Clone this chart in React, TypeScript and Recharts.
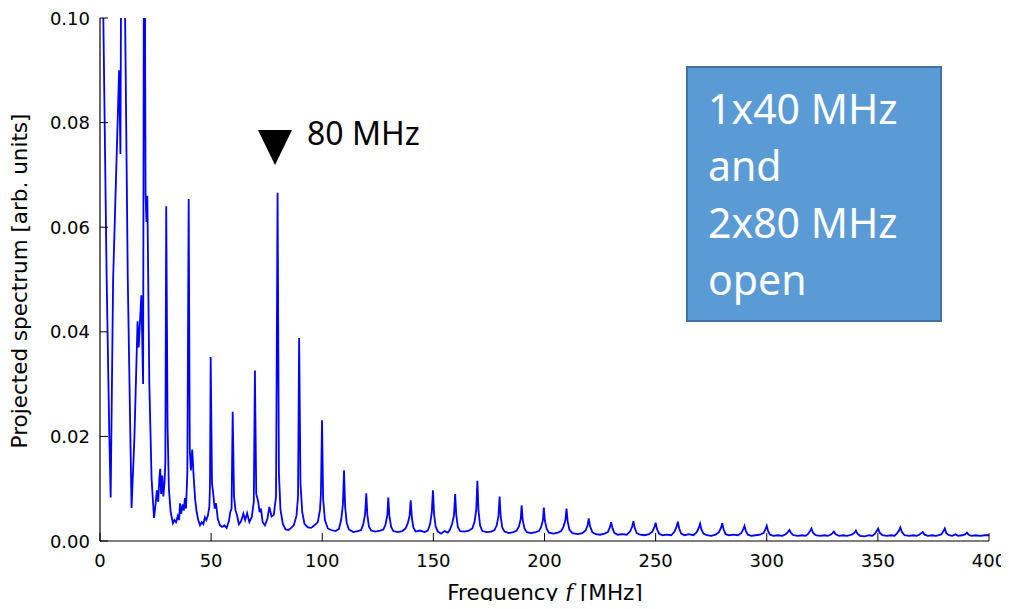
import React from 'react';
import { LineChart, Line, XAxis, YAxis } from 'recharts';

// Frequency [MHz], projected spectrum [arb. units]
const lowBand: [number, number][] = [
  [0.3, 0.16], [1.5, 0.1], [3.0, 0.05], [4.2, 0.02], [4.8, 0.0083], [5.9, 0.05], [8.6, 0.09], [9.2, 0.074],
  [9.6, 0.12], [10.4, 0.14], [11.3, 0.1], [12.5, 0.05], [14.2, 0.0063], [15.5, 0.02], [16.9, 0.042], [17.4, 0.037],
  [18.6, 0.047], [19.4, 0.03], [19.9, 0.15], [20.5, 0.0665], [20.9, 0.061], [21.3, 0.066], [22.2, 0.03], [23.2, 0.012],
  [24.3, 0.0044], [25.0, 0.007], [25.6, 0.0097], [26.2, 0.0075], [26.7, 0.012], [27.1, 0.0138], [27.5, 0.009],
  [28.0, 0.0125], [28.5, 0.0085], [29.0, 0.011], [29.4, 0.015], [29.8, 0.064], [30.4, 0.022], [31.0, 0.01],
  [31.8, 0.0055], [32.8, 0.0034], [33.5, 0.004], [34.2, 0.0036], [35.0, 0.0048], [35.6, 0.004], [36.0, 0.0072],
  [36.5, 0.0052], [37.2, 0.007], [37.7, 0.0058], [38.2, 0.0082], [38.7, 0.0062], [39.3, 0.013], [39.9, 0.0654],
  [40.4, 0.0174], [40.9, 0.0135], [41.5, 0.0175], [42.1, 0.0126], [42.8, 0.008], [43.5, 0.0055], [44.2, 0.004],
  [45.0, 0.003], [45.8, 0.0036], [46.5, 0.0032], [47.2, 0.0045], [47.8, 0.004], [48.5, 0.0048], [49.2, 0.0065],
  [49.5, 0.011], [49.8, 0.0352],
];

const midBand: [number, number][] = [
  [50.4, 0.011], [51.0, 0.0088], [51.6, 0.0062], [52.2, 0.0072], [53.0, 0.0042], [54.0, 0.003], [55.0, 0.0027],
  [56.0, 0.003], [57.0, 0.0025], [58.0, 0.0038], [58.6, 0.0055], [59.2, 0.0062], [59.7, 0.0247], [60.3, 0.0085],
  [61.0, 0.0058], [61.6, 0.005], [62.5, 0.0032], [63.5, 0.0038], [64.5, 0.0052], [65.3, 0.004], [66.2, 0.0053],
  [67.2, 0.0036], [68.3, 0.0046], [69.2, 0.0075], [69.7, 0.0326], [70.3, 0.009], [71.2, 0.0075], [71.8, 0.0055],
  [72.4, 0.0062], [73.2, 0.0036], [74.2, 0.003], [75.3, 0.0042], [76.2, 0.0065], [77.2, 0.0047], [78.2, 0.005],
  [79.2, 0.0085], [79.9, 0.0666], [80.5, 0.013], [81.2, 0.006], [82.3, 0.0032], [83.5, 0.0022], [84.8, 0.0021],
  [86.0, 0.0025], [87.2, 0.003], [88.4, 0.0048], [89.1, 0.0085], [89.6, 0.0388], [90.2, 0.011], [91.0, 0.0055],
  [92.0, 0.0033], [93.5, 0.0026], [95.0, 0.0025], [96.5, 0.003], [98.0, 0.0036], [99.0, 0.006], [99.4, 0.009],
  [99.9, 0.0231], [100.4, 0.008], [101.2, 0.004], [102.5, 0.0024],
];

const upperBand: [number, number][] = [
  [104, 0.0021], [106, 0.0019], [107.5, 0.0023], [108.5, 0.004], [109.3, 0.007], [109.8, 0.0135], [110.3, 0.0065],
  [111, 0.0035], [112, 0.0022], [114, 0.0017], [116, 0.0019],
  [117.5, 0.0021], [118.5, 0.0033], [119.3, 0.0052], [119.8, 0.0091], [120.3, 0.005], [121, 0.0028], [122, 0.002],
  [124, 0.0018], [126, 0.002],
  [127.5, 0.0022], [128.5, 0.0032], [129.3, 0.005], [129.7, 0.0083], [130.2, 0.0048], [131, 0.0027], [132, 0.0019],
  [134, 0.0017], [136, 0.0019],
  [137.5, 0.0024], [138.5, 0.0034], [139.3, 0.0048], [139.8, 0.0078], [140.3, 0.0045], [141, 0.0026], [142, 0.0018],
  [144, 0.002], [146, 0.0017],
  [147.5, 0.002], [148.5, 0.0032], [149.3, 0.0055], [149.8, 0.0097], [150.3, 0.0052], [151, 0.0028], [152, 0.0018],
  [153.5, 0.0014], [155, 0.0019], [156.5, 0.0016],
  [157.5, 0.0022], [158.5, 0.0034], [159.3, 0.005], [159.8, 0.009], [160.3, 0.005], [161, 0.0027], [162, 0.0019],
  [164, 0.0018], [166, 0.002],
  [167.5, 0.0024], [168.5, 0.0036], [169.3, 0.006], [169.8, 0.0115], [170.3, 0.0058], [171, 0.003], [172, 0.0019],
  [174, 0.0017], [176, 0.0018],
  [177.5, 0.0021], [178.5, 0.003], [179.3, 0.0048], [179.8, 0.0085], [180.3, 0.0046], [181, 0.0026], [182, 0.0018],
  [184, 0.0015], [186, 0.0017],
  [187.5, 0.002], [188.5, 0.0028], [189.3, 0.0042], [189.7, 0.0068], [190.2, 0.004], [191, 0.0024], [192, 0.0017],
  [194, 0.0015], [196, 0.0017],
  [197.5, 0.0019], [198.5, 0.0027], [199.3, 0.004], [199.7, 0.0064], [200.2, 0.0038], [201, 0.0023], [202, 0.0016],
  [204, 0.0014], [206, 0.0016],
  [207.5, 0.0019], [208.5, 0.0027], [209.4, 0.004], [209.9, 0.0062], [210.4, 0.0038], [211.2, 0.0022], [212.5, 0.0015],
  [215, 0.0013], [217, 0.0015],
  [218.5, 0.002], [219.4, 0.003], [219.9, 0.0043], [220.5, 0.0028], [221.5, 0.0017], [223, 0.0013], [225, 0.0012],
  [227, 0.0014],
  [228.5, 0.0017], [229.4, 0.0026], [230, 0.0036], [230.6, 0.0024], [231.5, 0.0015], [233, 0.0012], [235, 0.0013],
  [237, 0.0012],
  [238.5, 0.0018], [239.4, 0.0027], [240, 0.0038], [240.6, 0.0025], [241.5, 0.0015], [243, 0.0012], [245, 0.0011],
  [247, 0.0013],
];

const highBand: [number, number][] = [
  [248.5, 0.0018], [249.4, 0.0026], [250, 0.0035], [250.6, 0.0023], [251.5, 0.0014], [253, 0.0011], [255, 0.0012],
  [257, 0.0011],
  [258.5, 0.0018], [259.4, 0.0027], [260, 0.0037], [260.6, 0.0024], [261.5, 0.0014], [263, 0.0011], [265, 0.0013],
  [267, 0.0011],
  [268.5, 0.0017], [269.4, 0.0025], [270, 0.0033], [270.6, 0.0022], [271.5, 0.0014], [273, 0.0011], [275, 0.001],
  [277, 0.0012],
  [278.5, 0.0017], [279.4, 0.0025], [280, 0.0034], [280.6, 0.0022], [281.5, 0.0013], [283, 0.0011], [285, 0.0012],
  [287, 0.0011],
  [288.5, 0.0015], [289.4, 0.0022], [290, 0.0029], [290.6, 0.0019], [291.5, 0.0012], [293, 0.001], [295, 0.0011],
  [297, 0.0012],
  [298.5, 0.0015], [299.4, 0.0022], [300, 0.0029], [300.6, 0.0019], [301.5, 0.0012], [303, 0.001], [305, 0.0011],
  [307, 0.001],
  [308.5, 0.0013], [309.5, 0.0017], [310.2, 0.0021], [311, 0.0015], [312, 0.0011], [314, 0.001], [316, 0.0011],
  [317.5, 0.001],
  [318.5, 0.0013], [319.5, 0.0019], [320.1, 0.0024], [320.8, 0.0016], [322, 0.0011], [324, 0.001], [326, 0.0011],
  [327.5, 0.001],
  [328.7, 0.0012], [329.6, 0.0015], [330.2, 0.0018], [331, 0.0013], [332.5, 0.001], [334.5, 0.0011], [336, 0.001],
  [337.5, 0.0011],
  [338.6, 0.0013], [339.5, 0.0016], [340.1, 0.002], [340.8, 0.0014], [342, 0.001], [344, 0.0009], [346, 0.0011],
  [347.5, 0.001],
  [348.5, 0.0013], [349.5, 0.0019], [350.1, 0.0024], [350.8, 0.0016], [352, 0.0011], [354, 0.001], [356, 0.0011],
  [357.5, 0.001],
  [358.5, 0.0014], [359.5, 0.002], [360.1, 0.0026], [360.8, 0.0017], [362, 0.0011], [364, 0.001], [366, 0.0011],
  [367.5, 0.001],
  [368.6, 0.0012], [369.5, 0.0015], [370.2, 0.0017], [371, 0.0012], [372.5, 0.001], [374.5, 0.0011], [376, 0.001],
  [377.5, 0.0011],
  [378.6, 0.0013], [379.5, 0.0019], [380.1, 0.0024], [380.8, 0.0015], [382, 0.0011], [383.5, 0.001],
  [385, 0.0013], [386, 0.001], [388, 0.0011], [389.4, 0.0013], [390.1, 0.0016], [390.9, 0.0012], [392, 0.001],
  [394, 0.0011], [396, 0.001], [398, 0.0011], [400, 0.0011],
];

const xTicks = [0, 50, 100, 150, 200, 250, 300, 350, 400];
const yTicks = [0, 0.02, 0.04, 0.06, 0.08, 0.1];
const xTitle = 'Frequency ';
const xTitleVar = 'f';
const xTitleUnit = ' [MHz]';
const yTitle = 'Projected spectrum [arb. units]';
const markerLabel = '80 MHz';
const boxLines = ['1x40 MHz', 'and', '2x80 MHz', 'open'];

const spectrum = [...lowBand, ...midBand, ...upperBand, ...highBand].map(([f, v]) => ({ f, v }));

const W = 1001;
const H = 601;
const TICK = 8;
const FONT = 'DejaVu Sans, sans-serif';
const TICK_FS = 18;
const TITLE_FS = 21.5;

const BottomTick = (props: any) => {
  const { x, y, payload } = props;
  return (
    <g>
      <line x1={x} y1={y} x2={x} y2={y - TICK} stroke="#000" strokeWidth={1} />
      <text x={x} y={y + 26} textAnchor="middle" fontFamily={FONT} fontSize={TICK_FS} fill="#000">
        {payload.value}
      </text>
    </g>
  );
};

const TopTick = (props: any) => {
  const { x, y } = props;
  return <line x1={x} y1={y} x2={x} y2={y + TICK} stroke="#000" strokeWidth={1} />;
};

const LeftTick = (props: any) => {
  const { x, y, payload } = props;
  return (
    <g>
      <line x1={x} y1={y} x2={x + TICK} y2={y} stroke="#000" strokeWidth={1} />
      <text x={x - 10} y={y + 6.5} textAnchor="end" fontFamily={FONT} fontSize={TICK_FS} fill="#000">
        {Number(payload.value).toFixed(2)}
      </text>
    </g>
  );
};

const RightTick = (props: any) => {
  const { x, y } = props;
  return <line x1={x} y1={y} x2={x - TICK} y2={y} stroke="#000" strokeWidth={1} />;
};

export default function App() {
  return (
    <div style={{ position: 'relative', width: W, height: H, marginBottom: -8 }}>
      <LineChart width={W} height={H} data={spectrum} margin={{ top: 10, right: 20, left: 0, bottom: 0 }}>
        <XAxis
          dataKey="f"
          type="number"
          domain={[0, 400]}
          ticks={xTicks}
          interval={0}
          height={68}
          tickSize={0}
          tickMargin={0}
          tickLine={false}
          axisLine={{ stroke: '#000', strokeWidth: 1.2 }}
          tick={<BottomTick />}
          allowDataOverflow
        />
        <XAxis
          xAxisId="top"
          orientation="top"
          dataKey="f"
          type="number"
          domain={[0, 400]}
          ticks={xTicks}
          interval={0}
          height={0}
          tickSize={0}
          tickMargin={0}
          tickLine={false}
          axisLine={{ stroke: '#000', strokeWidth: 1.2 }}
          tick={<TopTick />}
          allowDataOverflow
        />
        <YAxis
          type="number"
          domain={[0, 0.1]}
          ticks={yTicks}
          interval={0}
          width={92}
          tickSize={0}
          tickMargin={0}
          tickLine={false}
          axisLine={{ stroke: '#000', strokeWidth: 1.2 }}
          tick={<LeftTick />}
          allowDataOverflow
        />
        <YAxis
          yAxisId="right"
          orientation="right"
          type="number"
          domain={[0, 0.1]}
          ticks={yTicks}
          interval={0}
          width={0}
          tickSize={0}
          tickMargin={0}
          tickLine={false}
          axisLine={{ stroke: '#000', strokeWidth: 1.2 }}
          tick={<RightTick />}
          allowDataOverflow
        />
        <Line
          type="linear"
          dataKey="v"
          stroke="#0000ff"
          strokeWidth={1.8}
          dot={false}
          activeDot={false}
          isAnimationActive={false}
        />
      </LineChart>
      <svg
        width={W}
        height={H}
        style={{ position: 'absolute', left: 0, top: 0, pointerEvents: 'none' }}
      >
        <text
          x={537}
          y={592}
          textAnchor="middle"
          fontFamily={FONT}
          fontSize={TITLE_FS}
          fill="#000"
        >
          {xTitle}
          <tspan fontStyle="italic" fontFamily="DejaVu Serif, serif">{xTitleVar}</tspan>
          {xTitleUnit}
        </text>
        <text
          transform="translate(19 273) rotate(-90)"
          textAnchor="middle"
          fontFamily={FONT}
          fontSize={TITLE_FS}
          fill="#000"
        >
          {yTitle}
        </text>
        <polygon points="250,122 284,122 267,157" fill="#000" />
        <text x={299} y={137} fontFamily="Noto Sans, sans-serif" fontSize={32} fill="#000">
          {markerLabel}
        </text>
        <rect x={679} y={59} width={254} height={254} fill="#5B9BD5" stroke="#41719C" strokeWidth={2} />
        {boxLines.map((t, i) => (
          <text
            key={t}
            x={700}
            y={116 + i * 57}
            fontFamily="Noto Sans, sans-serif"
            fontSize={41}
            fill="#fff"
          >
            {t}
          </text>
        ))}
      </svg>
    </div>
  );
}
